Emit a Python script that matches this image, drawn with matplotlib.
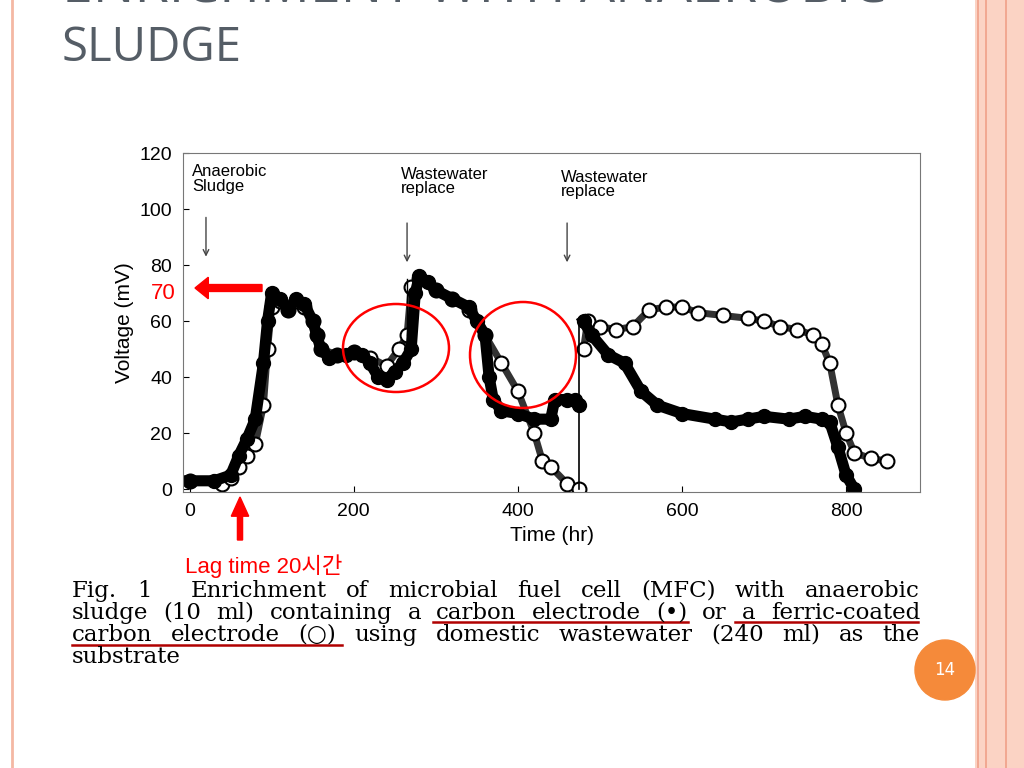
import matplotlib.pyplot as plt
from matplotlib.patches import Ellipse, Rectangle, FancyArrow
from matplotlib.lines import Line2D

# carbon electrode (filled)
carbon_t = [0, 30, 50, 60, 70, 80, 90, 95, 100, 110, 120, 130, 140, 150, 155, 160, 170, 180, 190, 200,
            210, 220, 230, 240, 250, 260, 270, 275, 280, 290, 300, 320, 340, 350, 360, 365, 370, 380,
            400, 420, 440, 445, 460, 470, 475]
carbon_v = [3, 3, 5, 12, 18, 25, 45, 60, 70, 68, 64, 68, 66, 60, 55, 50, 47, 48, 48, 49,
            48, 45, 40, 39, 42, 45, 50, 70, 76, 74, 71, 68, 65, 60, 55, 40, 32, 28,
            27, 25, 25, 32, 32, 32, 30]
carbon_t2 = [480, 490, 510, 530, 550, 570, 600, 640, 660, 680, 700, 730, 750, 770, 780, 790, 800, 810]
carbon_v2 = [60, 55, 48, 45, 35, 30, 27, 25, 24, 25, 26, 25, 26, 25, 24, 15, 5, 0]

# ferric-coated carbon electrode (open)
ferric_t = [0, 40, 50, 60, 70, 80, 90, 95, 100, 110, 120, 130, 140, 150, 155, 160, 180, 200, 220,
            240, 255, 265, 270, 280, 300, 320, 340, 360, 380, 400, 420, 430, 440, 460, 475]
ferric_v = [3, 2, 4, 8, 12, 16, 30, 50, 65, 67, 64, 67, 65, 60, 55, 50, 48, 49, 47,
            44, 50, 55, 72, 75, 71, 68, 64, 55, 45, 35, 20, 10, 8, 2, 0]
ferric_t2 = [480, 485, 500, 520, 540, 560, 580, 600, 620, 650, 680, 700, 720, 740, 760, 770,
             780, 790, 800, 810, 830, 850]
ferric_v2 = [50, 60, 58, 57, 58, 64, 65, 65, 63, 62, 61, 60, 58, 57, 55, 52, 45, 30, 20, 13, 11, 10]

x_ticks = [0, 200, 400, 600, 800]
y_ticks = [0, 20, 40, 60, 80, 100, 120]

caption_lines = ['Fig. 1  Enrichment of microbial fuel cell (MFC) with anaerobic',
                 'sludge (10 ml) containing a carbon electrode (•) or a ferric-coated',
                 'carbon electrode (○) using domestic wastewater (240 ml) as the',
                 'substrate']

fig = plt.figure(figsize=(10.24, 7.68), dpi=100)
W, H = 1024, 768

def fx(p): return p / W
def fy(p): return 1 - p / H

# slide frame
fig.add_artist(Line2D([fx(12), fx(12)], [0, 1], color='#f4b8a4', lw=2))
fig.add_artist(Rectangle((fx(975), 0), fx(49), 1, color='#fbd3c4', lw=0))
for xp in [978, 986, 1006]:
    fig.add_artist(Line2D([fx(xp), fx(xp)], [0, 1], color='#f0a088', lw=1.2))

fig.text(fx(62), fy(-12), 'ENRICHMENT WITH ANAEROBIC', fontsize=40, color='#555d66',
         family='Open Sans', va='center')
fig.text(fx(62), fy(48), 'SLUDGE', fontsize=34, color='#555d66', family='Open Sans', va='center')

ax = fig.add_axes([fx(183), fy(492), fx(737), 339 / H])
ax.plot(ferric_t, ferric_v, color='#333333', lw=5, marker='o', ms=10, mfc='white', mec='black', mew=1.5)
ax.plot(ferric_t2, ferric_v2, color='#333333', lw=5, marker='o', ms=10, mfc='white', mec='black', mew=1.5)
ax.plot(carbon_t, carbon_v, color='black', lw=8, marker='o', ms=10, mfc='black', mec='black')
ax.plot(carbon_t2, carbon_v2, color='black', lw=8, marker='o', ms=10, mfc='black', mec='black')
ax.plot([265, 265], [55, 75], color='black', lw=1)
ax.plot([475, 475], [0, 60], color='black', lw=1.2)

ax.set_xlim(-8, 890)
ax.set_ylim(-1, 120)
ax.set_xticks(x_ticks)
ax.set_yticks(y_ticks)
ax.tick_params(labelsize=14, direction='in', length=4, pad=8)
for lab in ax.get_xticklabels() + ax.get_yticklabels():
    lab.set_family('Liberation Sans')
ax.set_xlabel('Time (hr)', fontsize=15, family='Liberation Sans')
ax.set_ylabel('Voltage (mV)', fontsize=15, family='Liberation Sans')
for s in ax.spines.values():
    s.set_color('#777777')

notes = [(20, 'Anaerobic\nSludge', 116, 82), (265, 'Wastewater\nreplace', 115, 80), (460, 'Wastewater\nreplace', 114, 80)]
for xv, txt, ty, ay in notes:
    ax.text(xv - 8 if xv > 100 else 3, ty, txt, fontsize=12, va='top', ha='left',
            family='Liberation Sans', linespacing=0.95)
    ax.annotate('', xy=(xv, ay), xytext=(xv, ay + 16),
                arrowprops=dict(arrowstyle='->', color='#444444', lw=1))

# red annotations
fig.add_artist(FancyArrow(fx(262), fy(288), fx(195) - fx(262), 0, width=0.009, head_width=0.028,
                          head_length=0.013, color='red', length_includes_head=True))
fig.text(fx(163), fy(293), '70', color='red', fontsize=16, ha='center', va='center',
         family='Liberation Sans')
fig.add_artist(FancyArrow(fx(240), fy(540), 0, fy(497) - fy(540), width=0.005, head_width=0.017,
                          head_length=0.025, color='red', length_includes_head=True))
fig.text(fx(185), fy(566), 'Lag time 20시간', color='red', fontsize=16, va='center',
         family=['Liberation Sans', 'Noto Sans CJK KR'])
fig.add_artist(Ellipse((fx(396), fy(348)), fx(106), 88 / H, fill=False, ec='red', lw=1.8))
fig.add_artist(Ellipse((fx(523), fy(355)), fx(106), 106 / H, fill=False, ec='red', lw=1.8))

# caption, justified between x=72 and x=920
renderer = fig.canvas.get_renderer()
for i, line in enumerate(caption_lines):
    words = line.split(' ')
    texts = [fig.text(0, fy(591 + 22 * i), w, fontsize=16.5, family='DejaVu Serif', va='center')
             for w in words]
    widths = [t.get_window_extent(renderer).width for t in texts]
    if i < len(caption_lines) - 1:
        gap = (920 - 72 - sum(widths)) / (len(words) - 1)
    else:
        gap = 6
    xpos = 72
    for t, w in zip(texts, widths):
        t.set_x(fx(xpos))
        xpos += w + gap
for x0, x1, yp in [(433, 688, 622), (735, 918, 622), (72, 342, 645)]:
    fig.add_artist(Line2D([fx(x0), fx(x1)], [fy(yp), fy(yp)], color='#b00000', lw=1.8))

fig.add_artist(Ellipse((fx(945), fy(670)), fx(60), 60 / H, color='#f58a3a'))
fig.text(fx(945), fy(670), '14', color='white', fontsize=12, ha='center', va='center')

fig.savefig('out.png', dpi=100)
